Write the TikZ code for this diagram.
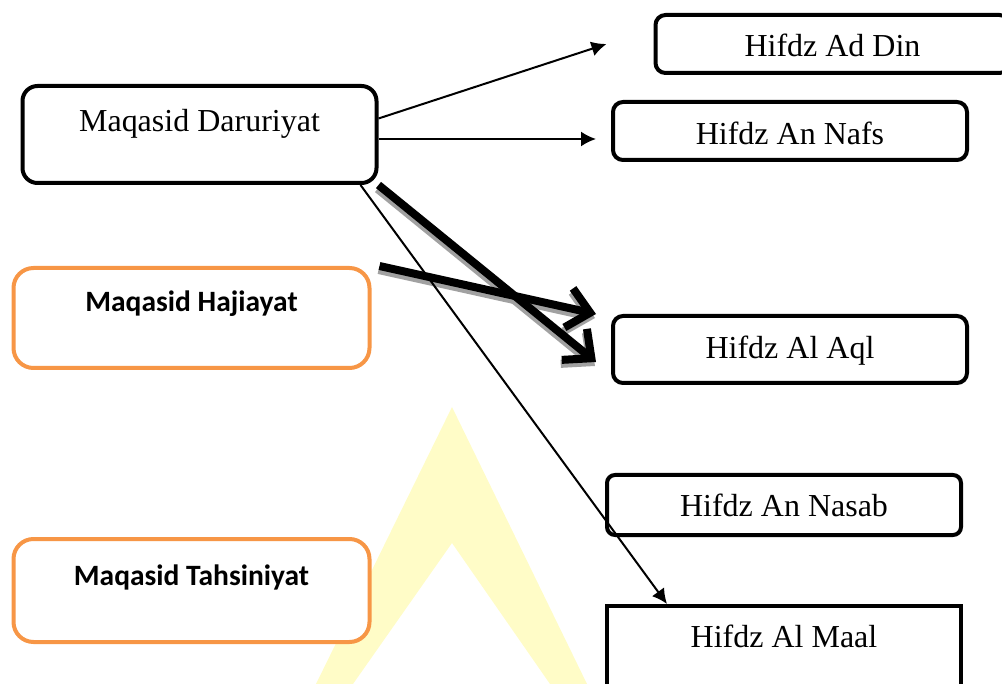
\documentclass[tikz,border=0pt]{standalone}
\usepackage{fontspec}
\setmainfont{Liberation Serif}
\newfontfamily\calibri{Carlito}
\usepackage{tikz}
\usetikzlibrary{arrows.meta}
\tikzset{>=Latex}
\definecolor{jingga}{HTML}{F79646}

\begin{document}
\begin{tikzpicture}[x=1pt, y=-1pt, inner sep=0pt]
    \tikzset{%
      segm/.style={fill=white, draw, line width=4pt, rounded corners=10pt, anchor=north,
        minimum width=354pt, font=\fontsize{32}{36}\selectfont},
      tingkat/.style={segm, draw=jingga, rounded corners=20pt, minimum width=356pt,
        font=\calibri\bfseries\fontsize{29.5}{33}\selectfont},
      tipis/.style={line width=2pt, -{Latex[length=15pt,width=15pt]}},
      tebal/.style={line width=8pt, -{Straight Barb[length=22pt,width=40pt]}},
      bayang/.style={tebal, draw=black!37, transform canvas={shift={(-1pt,-4pt)}}}
      }
     \useasboundingbox (0,0) rectangle (1002,684);
     \clip (0,0) rectangle (1002,684);

     % watermark
     \fill [yellow!22] (452,407) -- (316,684) -- (353,684) -- (452,543) -- (550,684) -- (587,684) -- cycle;

     \node [segm, rounded corners=15pt, text height=46pt, text depth=51pt] (Mdar) at (199.5,84) {Maqasid Daruriyat};
     \node [tingkat, text height=44pt, text depth=56pt] (Mhaj) at (191.5,266) {Maqasid Hajiayat};
     \node [tingkat, text height=46pt, text depth=57pt] (Mtah) at (191.5,537) {Maqasid Tahsiniyat};

     \node [segm, text height=42pt, text depth=16pt] (Hdin) at (832.5,13) {Hifdz Ad Din};
     \node [segm, text height=43pt, text depth=15pt] (Hnafs) at (790,100) {Hifdz An Nafs};
     \node [segm, text height=43pt, text depth=24pt] (Haql) at (790,314) {Hifdz Al Aql};
     \node [segm, rounded corners=8pt, text height=42pt, text depth=18pt] (Hnasab) at (784,473) {Hifdz An Nasab};
     \node [segm, sharp corners, text height=41pt, text depth=80pt] (Hmaal) at (784,604) {Hifdz Al Maal};

     \draw [tipis] ([yshift=16pt]Mdar.east) -- ([xshift=-47pt]Hdin.west);
     \draw [tipis] ([yshift=-4.5pt]Mdar.east) -- ([xshift=-15pt, yshift=-8pt]Hnafs.west);

     % shadows first, then the fat arrows
     \draw [bayang] (Mdar.south east) -- ([xshift=-15pt, yshift=-12.5pt]Haql.west);
     \draw [bayang] ([xshift=8pt]Mhaj.north east) -- ([xshift=-15pt]Haql.north west);
     \draw [tebal] (Mdar.south east) -- ([xshift=-15pt, yshift=-12.5pt]Haql.west);
     \draw [tebal] ([xshift=8pt]Mhaj.north east) -- ([xshift=-15pt]Haql.north west);

     \draw [tipis] ([xshift=-18pt]Mdar.south east) -- ([xshift=62pt]Hmaal.north west);

  \end{tikzpicture}
\end{document}
